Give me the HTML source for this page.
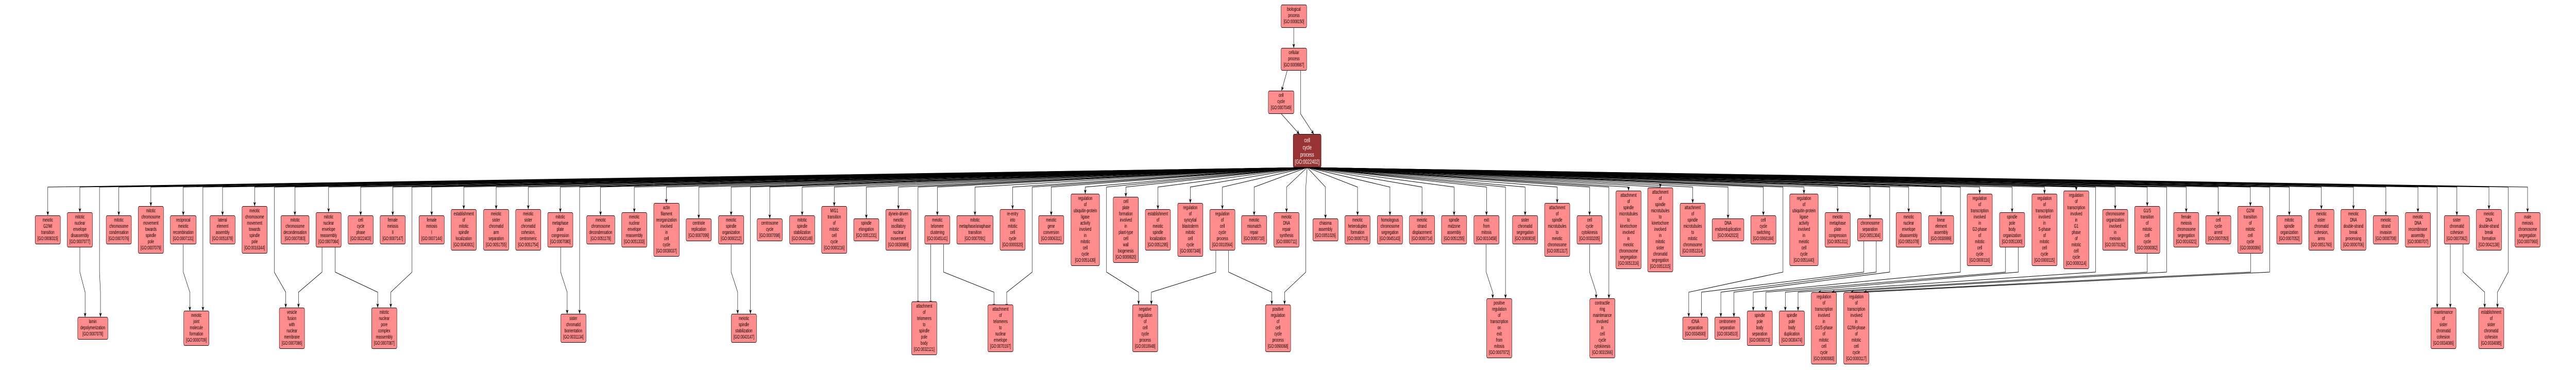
<!DOCTYPE html>
<html><head><meta charset="utf-8"><style>
html,body{margin:0;padding:0;background:#fff;width:100%;height:100%;overflow:hidden;}
body{font-family:"Liberation Sans",sans-serif;}
#s{position:absolute;left:0;top:0;width:100vw;height:100vh;display:block;}
#w{position:relative;width:7871px;height:718px;font-family:"Liberation Sans",sans-serif;}
.n{position:absolute;transform:translateY(-50%);box-sizing:border-box;background:#ff8c8c;border:1px solid #2a0a0a;border-radius:4px;padding:3px 0;font-size:10px;line-height:12px;text-align:center;color:#000;white-space:nowrap;width:78px;}
.r1{top:446px}.r2{top:637px}
.t{position:absolute;box-sizing:border-box;background:#ff8c8c;border:1px solid #2a0a0a;border-radius:4px;padding:3px 0;font-size:10px;line-height:12px;text-align:center;white-space:nowrap;}
.hub{position:absolute;left:3951px;top:260px;width:86px;height:65px;box-sizing:border-box;background:#993333;border:1px solid #2a0a0a;border-radius:4px;color:#fff;font-size:12px;line-height:14px;padding:4px 0;text-align:center;}
</style></head><body>
<svg id="s" viewBox="0 0 7871 718" preserveAspectRatio="none" xmlns="http://www.w3.org/2000/svg">
<defs><marker id="a" markerUnits="userSpaceOnUse" markerWidth="10" markerHeight="10" refX="8" refY="4" orient="auto"><path d="M0,0 L8,4 L0,8 L2,4 z" fill="#000"/></marker></defs>
<g fill="none" stroke="#000" stroke-width="1" marker-end="url(#a)">
<path d="M3953 54V93"/>
<path d="M3933 137L3916 176"/>
<path d="M3974 137V221L4014 260"/>
<path d="M3915 221L3970 260"/>
<path d="M3994 325L146 363V418"/>
<path d="M3994 325L244 363V412"/>
<path d="M3994 325L363 363V418"/>
<path d="M3994 325L461 363V400"/>
<path d="M3994 325L560 363V418"/>
<path d="M3994 325L680 363V418"/>
<path d="M3994 325L778 363V400"/>
<path d="M3994 325L901 363V418"/>
<path d="M3994 325L1004 363V412"/>
<path d="M3994 325L1102 363V418"/>
<path d="M3994 325L1200 363V418"/>
<path d="M3994 325L1319 363V418"/>
<path d="M3994 325L1417 363V406"/>
<path d="M3994 325L1516 363V406"/>
<path d="M3994 325L1614 363V406"/>
<path d="M3994 325L1712 363V412"/>
<path d="M3994 325L1835 363V418"/>
<path d="M3994 325L1938 363V412"/>
<path d="M3994 325L2036 363V394"/>
<path d="M3994 325L2135 363V424"/>
<path d="M3994 325L2234 363V418"/>
<path d="M3994 325L2352 363V424"/>
<path d="M3994 325L2451 363V418"/>
<path d="M3994 325L2549 363V400"/>
<path d="M3994 325L2647 363V424"/>
<path d="M3994 325L2745 363V406"/>
<path d="M3994 325L2864 363V418"/>
<path d="M3994 325L2979 363V418"/>
<path d="M3994 325L3094 363V406"/>
<path d="M3994 325L3212 363V418"/>
<path d="M3994 325L3316 363V376"/>
<path d="M3994 325L3440 363V382"/>
<path d="M3994 325L3538 363V406"/>
<path d="M3994 325L3637 363V394"/>
<path d="M3994 325L3735 363V406"/>
<path d="M3994 325L3832 363V418"/>
<path d="M3994 325L3931 363V412"/>
<path d="M3994 325L4050 363V424"/>
<path d="M3994 325L4148 363V418"/>
<path d="M3994 325L4247 363V418"/>
<path d="M3994 325L4345 363V418"/>
<path d="M3994 325L4443 363V418"/>
<path d="M3994 325L4542 363V418"/>
<path d="M3994 325L4660 363V418"/>
<path d="M3994 325L4758 363V394"/>
<path d="M3994 325L4857 363V418"/>
<path d="M3994 325L4976 363V370"/>
<path d="M3994 325L5073 363V364"/>
<path d="M3994 325L5172 363V394"/>
<path d="M3994 325L5280 363V424"/>
<path d="M3994 325L5388 363V418"/>
<path d="M3994 325L5512 363V376"/>
<path d="M3994 325L5615 363V412"/>
<path d="M3994 325L5714 363V424"/>
<path d="M3994 325L5832 363V412"/>
<path d="M3994 325L5931 363V418"/>
<path d="M3994 325L6049 363V376"/>
<path d="M3994 325L6148 363V412"/>
<path d="M3994 325L6247 363V376"/>
<path d="M3994 325L6344 363V370"/>
<path d="M3994 325L6463 363V406"/>
<path d="M3994 325L6561 363V400"/>
<path d="M3994 325L6680 363V412"/>
<path d="M3994 325L6778 363V418"/>
<path d="M3994 325L6876 363V400"/>
<path d="M3994 325L6995 363V418"/>
<path d="M3994 325L7093 363V406"/>
<path d="M3994 325L7191 363V406"/>
<path d="M3994 325L7290 363V418"/>
<path d="M3994 325L7388 363V412"/>
<path d="M3994 325L7507 363V418"/>
<path d="M3994 325L7605 363V406"/>
<path d="M3994 325L7723 363V412"/>
<path d="M244 480V528L260 567V615"/>
<path d="M3994 325L304 363V528L307 567V615"/>
<path d="M560 474V528L580 567V603"/>
<path d="M3994 325L620 363V603"/>
<path d="M3994 325L838 363V528L873 567V597"/>
<path d="M984 480V528L912 567V597"/>
<path d="M1024 480V528L1154 567V597"/>
<path d="M3994 325L1259 363V528L1194 567V597"/>
<path d="M1713 480V528L1733 567V609"/>
<path d="M3994 325L1771 363V609"/>
<path d="M2234 474V528L2254 567V609"/>
<path d="M3994 325L2293 363V609"/>
<path d="M3994 325L2805 363V591"/>
<path d="M2844 474V591"/>
<path d="M2883 474V528L3037 567V597"/>
<path d="M3994 325L3154 363V528L3076 567V597"/>
<path d="M3994 325L3381 363V528L3479 567V591"/>
<path d="M3715 486V528L3518 567V591"/>
<path d="M3754 486V528L3886 567V591"/>
<path d="M3994 325L3990 363V528L3925 567V591"/>
<path d="M4541 474V528L4561 567V579"/>
<path d="M3994 325L4600 363V579"/>
<path d="M4857 474V528L4877 567V579"/>
<path d="M3994 325L4916 363V579"/>
<path d="M3994 325L5448 363V528L5160 567V615"/>
<path d="M5695 468V528L5199 567V615"/>
<path d="M5733 468V528L5258 567V615"/>
<path d="M3994 325L5774 363V528L5298 567V615"/>
<path d="M3994 325L5990 363V528L5357 567V603"/>
<path d="M6128 480V528L5396 567V603"/>
<path d="M6167 480V528L5455 567V603"/>
<path d="M3994 325L6403 363V528L5494 567V603"/>
<path d="M6561 492V528L5556 567"/>
<path d="M3994 325L6620 363V528L5597 567"/>
<path d="M6877 492V528L5655 567"/>
<path d="M3994 325L6935 363V528L5695 567"/>
<path d="M3994 325L7447 363V597"/>
<path d="M7487 474V597"/>
<path d="M7526 474V528L7592 567V597"/>
<path d="M3994 325L7664 363V528L7631 567V597"/>
</g>
<foreignObject x="0" y="0" width="7871" height="718">
<div xmlns="http://www.w3.org/1999/xhtml" id="w">
<div class="t" style="left:3914px;top:9px;width:79px;height:45px">biological<br/>process<br/>[GO:0008150]</div>
<div class="t" style="left:3914px;top:93px;width:79px;height:44px">cellular<br/>process<br/>[GO:0009987]</div>
<div class="t" style="left:3875px;top:176px;width:79px;height:45px">cell<br/>cycle<br/>[GO:0007049]</div>
<div class="hub">cell<br/>cycle<br/>process<br/>[GO:0022402]</div>

<div class="n r1" style="left:107px">meiotic<br/>G2/MI<br/>transition<br/>[GO:0008315]</div>
<div class="n r1" style="left:205px">mitotic<br/>nuclear<br/>envelope<br/>disassembly<br/>[GO:0007077]</div>
<div class="n r1" style="left:324px">mitotic<br/>chromosome<br/>condensation<br/>[GO:0007076]</div>
<div class="n r1" style="left:422px">mitotic<br/>chromosome<br/>movement<br/>towards<br/>spindle<br/>pole<br/>[GO:0007079]</div>
<div class="n r1" style="left:520px;width:80px">reciprocal<br/>meiotic<br/>recombination<br/>[GO:0007131]</div>
<div class="n r1" style="left:641px">lateral<br/>element<br/>assembly<br/>[GO:0051878]</div>
<div class="n r1" style="left:739px">meiotic<br/>chromosome<br/>movement<br/>towards<br/>spindle<br/>pole<br/>[GO:0016344]</div>
<div class="n r1" style="left:858px;width:87px">mitotic<br/>chromosome<br/>decondensation<br/>[GO:0007083]</div>
<div class="n r1" style="left:965px">mitotic<br/>nuclear<br/>envelope<br/>reassembly<br/>[GO:0007084]</div>
<div class="n r1" style="left:1063px">cell<br/>cycle<br/>phase<br/>[GO:0022403]</div>
<div class="n r1" style="left:1161px">female<br/>meiosis<br/>II<br/>[GO:0007147]</div>
<div class="n r1" style="left:1280px">female<br/>meiosis<br/>I<br/>[GO:0007144]</div>
<div class="n r1" style="left:1378px">establishment<br/>of<br/>mitotic<br/>spindle<br/>localization<br/>[GO:0040001]</div>
<div class="n r1" style="left:1477px">meiotic<br/>sister<br/>chromatid<br/>arm<br/>separation<br/>[GO:0051755]</div>
<div class="n r1" style="left:1575px">meiotic<br/>sister<br/>chromatid<br/>cohesion,<br/>centromeric<br/>[GO:0051754]</div>
<div class="n r1" style="left:1673px">mitotic<br/>metaphase<br/>plate<br/>congression<br/>[GO:0007080]</div>
<div class="n r1" style="left:1792px;width:87px">meiotic<br/>chromosome<br/>decondensation<br/>[GO:0051178]</div>
<div class="n r1" style="left:1899px">meiotic<br/>nuclear<br/>envelope<br/>reassembly<br/>[GO:0051333]</div>
<div class="n r1" style="left:1997px;width:79px">actin<br/>filament<br/>reorganization<br/>involved<br/>in<br/>cell<br/>cycle<br/>[GO:0030037]</div>
<div class="n r1" style="left:2096px">centriole<br/>replication<br/>[GO:0007099]</div>
<div class="n r1" style="left:2195px">meiotic<br/>spindle<br/>organization<br/>[GO:0000212]</div>
<div class="n r1" style="left:2313px">centrosome<br/>cycle<br/>[GO:0007098]</div>
<div class="n r1" style="left:2412px">mitotic<br/>spindle<br/>stabilization<br/>[GO:0043148]</div>
<div class="n r1" style="left:2510px">M/G1<br/>transition<br/>of<br/>mitotic<br/>cell<br/>cycle<br/>[GO:0000216]</div>
<div class="n r1" style="left:2608px">spindle<br/>elongation<br/>[GO:0051231]</div>
<div class="n r1" style="left:2706px">dynein-driven<br/>meiotic<br/>oscillatory<br/>nuclear<br/>movement<br/>[GO:0030989]</div>
<div class="n r1" style="left:2825px">meiotic<br/>telomere<br/>clustering<br/>[GO:0045141]</div>
<div class="n r1" style="left:2923px;width:112px">mitotic<br/>metaphase/anaphase<br/>transition<br/>[GO:0007091]</div>
<div class="n r1" style="left:3055px">re-entry<br/>into<br/>mitotic<br/>cell<br/>cycle<br/>[GO:0000320]</div>
<div class="n r1" style="left:3173px">meiotic<br/>gene<br/>conversion<br/>[GO:0006311]</div>
<div class="n r1" style="left:3272px;width:88px">regulation<br/>of<br/>ubiquitin-protein<br/>ligase<br/>activity<br/>involved<br/>in<br/>mitotic<br/>cell<br/>cycle<br/>[GO:0051439]</div>
<div class="n r1" style="left:3401px">cell<br/>plate<br/>formation<br/>involved<br/>in<br/>plant-type<br/>cell<br/>wall<br/>biogenesis<br/>[GO:0009920]</div>
<div class="n r1" style="left:3499px">establishment<br/>of<br/>meiotic<br/>spindle<br/>localization<br/>[GO:0051295]</div>
<div class="n r1" style="left:3598px">regulation<br/>of<br/>syncytial<br/>blastoderm<br/>mitotic<br/>cell<br/>cycle<br/>[GO:0007348]</div>
<div class="n r1" style="left:3696px">regulation<br/>of<br/>cell<br/>cycle<br/>process<br/>[GO:0010564]</div>
<div class="n r1" style="left:3793px">meiotic<br/>mismatch<br/>repair<br/>[GO:0000710]</div>
<div class="n r1" style="left:3892px">meiotic<br/>DNA<br/>repair<br/>synthesis<br/>[GO:0000711]</div>
<div class="n r1" style="left:4011px">chiasma<br/>assembly<br/>[GO:0051026]</div>
<div class="n r1" style="left:4109px">meiotic<br/>heteroduplex<br/>formation<br/>[GO:0000713]</div>
<div class="n r1" style="left:4208px">homologous<br/>chromosome<br/>segregation<br/>[GO:0045143]</div>
<div class="n r1" style="left:4306px">meiotic<br/>strand<br/>displacement<br/>[GO:0000714]</div>
<div class="n r1" style="left:4404px">spindle<br/>midzone<br/>assembly<br/>[GO:0051255]</div>
<div class="n r1" style="left:4503px">exit<br/>from<br/>mitosis<br/>[GO:0010458]</div>
<div class="n r1" style="left:4621px">sister<br/>chromatid<br/>segregation<br/>[GO:0000819]</div>
<div class="n r1" style="left:4719px">attachment<br/>of<br/>spindle<br/>microtubules<br/>to<br/>meiotic<br/>chromosome<br/>[GO:0051317]</div>
<div class="n r1" style="left:4818px">cell<br/>cycle<br/>cytokinesis<br/>[GO:0033205]</div>
<div class="n r1" style="left:4937px">attachment<br/>of<br/>spindle<br/>microtubules<br/>to<br/>kinetochore<br/>involved<br/>in<br/>meiotic<br/>chromosome<br/>segregation<br/>[GO:0051316]</div>
<div class="n r1" style="left:5034px">attachment<br/>of<br/>spindle<br/>microtubules<br/>to<br/>kinetochore<br/>involved<br/>in<br/>mitotic<br/>sister<br/>chromatid<br/>segregation<br/>[GO:0051315]</div>
<div class="n r1" style="left:5133px">attachment<br/>of<br/>spindle<br/>microtubules<br/>to<br/>mitotic<br/>chromosome<br/>[GO:0051314]</div>
<div class="n r1" style="left:5231px;width:98px">DNA<br/>endoreduplication<br/>[GO:0042023]</div>
<div class="n r1" style="left:5349px">cell<br/>cycle<br/>switching<br/>[GO:0060184]</div>
<div class="n r1" style="left:5468px;width:88px">regulation<br/>of<br/>ubiquitin-protein<br/>ligase<br/>activity<br/>involved<br/>in<br/>meiotic<br/>cell<br/>cycle<br/>[GO:0051440]</div>
<div class="n r1" style="left:5576px">meiotic<br/>metaphase<br/>plate<br/>congression<br/>[GO:0051311]</div>
<div class="n r1" style="left:5675px">chromosome<br/>separation<br/>[GO:0051304]</div>
<div class="n r1" style="left:5793px">meiotic<br/>nuclear<br/>envelope<br/>disassembly<br/>[GO:0051078]</div>
<div class="n r1" style="left:5892px">linear<br/>element<br/>assembly<br/>[GO:0030999]</div>
<div class="n r1" style="left:6010px">regulation<br/>of<br/>transcription<br/>involved<br/>in<br/>G2-phase<br/>of<br/>mitotic<br/>cell<br/>cycle<br/>[GO:0000116]</div>
<div class="n r1" style="left:6109px">spindle<br/>pole<br/>body<br/>organization<br/>[GO:0051300]</div>
<div class="n r1" style="left:6208px">regulation<br/>of<br/>transcription<br/>involved<br/>in<br/>S-phase<br/>of<br/>mitotic<br/>cell<br/>cycle<br/>[GO:0000115]</div>
<div class="n r1" style="left:6305px">regulation<br/>of<br/>transcription<br/>involved<br/>in<br/>G1<br/>phase<br/>of<br/>mitotic<br/>cell<br/>cycle<br/>[GO:0000114]</div>
<div class="n r1" style="left:6424px">chromosome<br/>organization<br/>involved<br/>in<br/>meiosis<br/>[GO:0070192]</div>
<div class="n r1" style="left:6522px">G1/S<br/>transition<br/>of<br/>mitotic<br/>cell<br/>cycle<br/>[GO:0000082]</div>
<div class="n r1" style="left:6641px">female<br/>meiosis<br/>chromosome<br/>segregation<br/>[GO:0016321]</div>
<div class="n r1" style="left:6739px">cell<br/>cycle<br/>arrest<br/>[GO:0007050]</div>
<div class="n r1" style="left:6837px">G2/M<br/>transition<br/>of<br/>mitotic<br/>cell<br/>cycle<br/>[GO:0000086]</div>
<div class="n r1" style="left:6956px">mitotic<br/>spindle<br/>organization<br/>[GO:0007052]</div>
<div class="n r1" style="left:7054px">meiotic<br/>sister<br/>chromatid<br/>cohesion,<br/>arms<br/>[GO:0051760]</div>
<div class="n r1" style="left:7152px">meiotic<br/>DNA<br/>double-strand<br/>break<br/>processing<br/>[GO:0000706]</div>
<div class="n r1" style="left:7251px">meiotic<br/>strand<br/>invasion<br/>[GO:0000708]</div>
<div class="n r1" style="left:7349px">meiotic<br/>DNA<br/>recombinase<br/>assembly<br/>[GO:0000707]</div>
<div class="n r1" style="left:7468px">sister<br/>chromatid<br/>cohesion<br/>[GO:0007062]</div>
<div class="n r1" style="left:7566px">meiotic<br/>DNA<br/>double-strand<br/>break<br/>formation<br/>[GO:0042138]</div>
<div class="n r1" style="left:7684px">male<br/>meiosis<br/>chromosome<br/>segregation<br/>[GO:0007060]</div>

<div class="n r2" style="left:237px;width:93px">lamin<br/>depolymerization<br/>[GO:0007078]</div>
<div class="n r2" style="left:561px">meiotic<br/>joint<br/>molecule<br/>formation<br/>[GO:0000709]</div>
<div class="n r2" style="left:853px">vesicle<br/>fusion<br/>with<br/>nuclear<br/>membrane<br/>[GO:0007086]</div>
<div class="n r2" style="left:1135px">mitotic<br/>nuclear<br/>pore<br/>complex<br/>reassembly<br/>[GO:0007087]</div>
<div class="n r2" style="left:1713px">sister<br/>chromatid<br/>biorientation<br/>[GO:0031134]</div>
<div class="n r2" style="left:2234px">meiotic<br/>spindle<br/>stabilization<br/>[GO:0043147]</div>
<div class="n r2" style="left:2785px">attachment<br/>of<br/>telomeres<br/>to<br/>spindle<br/>pole<br/>body<br/>[GO:0032121]</div>
<div class="n r2" style="left:3018px">attachment<br/>of<br/>telomeres<br/>to<br/>nuclear<br/>envelope<br/>[GO:0070197]</div>
<div class="n r2" style="left:3460px">negative<br/>regulation<br/>of<br/>cell<br/>cycle<br/>process<br/>[GO:0010948]</div>
<div class="n r2" style="left:3866px">positive<br/>regulation<br/>of<br/>cell<br/>cycle<br/>process<br/>[GO:0090068]</div>
<div class="n r2" style="left:4542px">positive<br/>regulation<br/>of<br/>transcription<br/>on<br/>exit<br/>from<br/>mitosis<br/>[GO:0007072]</div>
<div class="n r2" style="left:4857px">contractile<br/>ring<br/>maintenance<br/>involved<br/>in<br/>cell<br/>cycle<br/>cytokinesis<br/>[GO:0031566]</div>
<div class="n r2" style="left:5141px">rDNA<br/>separation<br/>[GO:0034500]</div>
<div class="n r2" style="left:5239px">centromere<br/>separation<br/>[GO:0034510]</div>
<div class="n r2" style="left:5338px">spindle<br/>pole<br/>body<br/>separation<br/>[GO:0000073]</div>
<div class="n r2" style="left:5436px">spindle<br/>pole<br/>body<br/>duplication<br/>[GO:0030474]</div>
<div class="n r2" style="left:5534px">regulation<br/>of<br/>transcription<br/>involved<br/>in<br/>G1/S-phase<br/>of<br/>mitotic<br/>cell<br/>cycle<br/>[GO:0000083]</div>
<div class="n r2" style="left:5633px">regulation<br/>of<br/>transcription<br/>involved<br/>in<br/>G2/M-phase<br/>of<br/>mitotic<br/>cell<br/>cycle<br/>[GO:0000117]</div>
<div class="n r2" style="left:7427px">maintenance<br/>of<br/>sister<br/>chromatid<br/>cohesion<br/>[GO:0034086]</div>
<div class="n r2" style="left:7573px">establishment<br/>of<br/>sister<br/>chromatid<br/>cohesion<br/>[GO:0034085]</div>
</div>
</foreignObject>
</svg>
</body></html>
